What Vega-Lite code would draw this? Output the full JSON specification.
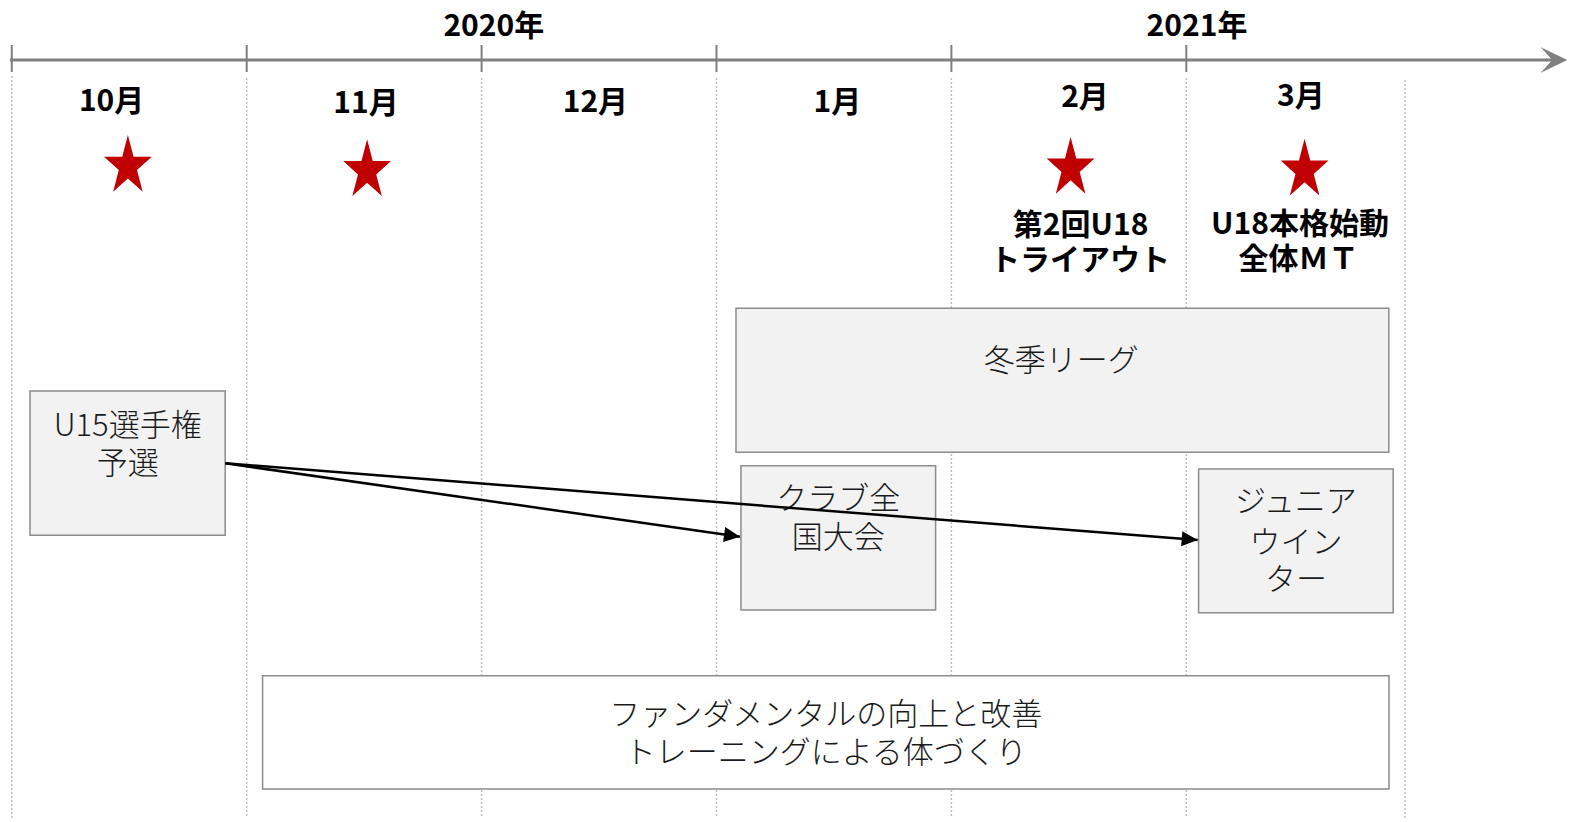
{
  "$schema": "https://vega.github.io/schema/vega-lite/v6.json",
  "width": 1574,
  "height": 822,
  "autosize": {"type": "fit", "contains": "padding"},
  "padding": 0,
  "background": "white",
  "config": {"view": {"stroke": null}},
  "datasets": {
    "grid": [
      {"x": 0, "y": 76, "y2": 818},
      {"x": 1, "y": 78, "y2": 818},
      {"x": 2, "y": 78, "y2": 818},
      {"x": 3, "y": 78, "y2": 818},
      {"x": 4, "y": 78, "y2": 818},
      {"x": 5, "y": 78, "y2": 818},
      {"x": 5.931, "y": 80, "y2": 818}
    ],
    "ticks": [
      {"x": 0, "y": 45, "y2": 72},
      {"x": 1, "y": 45, "y2": 72},
      {"x": 2, "y": 45, "y2": 72},
      {"x": 3, "y": 45, "y2": 72},
      {"x": 4, "y": 45, "y2": 72},
      {"x": 5, "y": 45, "y2": 72}
    ],
    "axisline": [{"x": -0.0077, "x2": 6.57, "y": 60}],
    "axishead": [{"x": 6.622, "y": 60}],
    "years": [
      {"x": 2.0519, "y": 25, "label": "2020年"},
      {"x": 5.0456, "y": 25, "label": "2021年"}
    ],
    "months": [
      {"x": 0.4249, "y": 100, "label": "10月"},
      {"x": 1.5079, "y": 101.7, "label": "11月"},
      {"x": 2.4845, "y": 101.4, "label": "12月"},
      {"x": 3.5143, "y": 101.4, "label": "1月"},
      {"x": 4.5688, "y": 96, "label": "2月"},
      {"x": 5.4874, "y": 95, "label": "3月"}
    ],
    "stars": [
      {"x": 0.4943, "y": 166.4},
      {"x": 1.5126, "y": 170.7},
      {"x": 4.5075, "y": 168.3},
      {"x": 5.5036, "y": 170.2}
    ],
    "starlabels": [
      {"x": 4.5502, "y": 223.5, "label": "第2回U18"},
      {"x": 4.5475, "y": 259, "label": "トライアウト"},
      {"x": 5.484, "y": 223, "label": "U18本格始動"},
      {"x": 5.478, "y": 258, "label": "全体ＭＴ"}
    ],
    "boxes": [
      {"name": "U15選手権予選", "kind": "event", "x": 0.0775, "x2": 0.9085, "y": 391, "y2": 535.3},
      {"name": "冬季リーグ", "kind": "event", "x": 3.083, "x2": 5.862, "y": 308.3, "y2": 452.3},
      {"name": "クラブ全国大会", "kind": "event", "x": 3.1043, "x2": 3.9328, "y": 465.7, "y2": 610},
      {"name": "ジュニアウインター", "kind": "event", "x": 5.0524, "x2": 5.8808, "y": 469, "y2": 612.7},
      {"name": "ファンダメンタル", "kind": "theme", "x": 1.0677, "x2": 5.8629, "y": 675.7, "y2": 789}
    ],
    "boxtext": [
      {"x": 0.4934, "y": 425, "label": "U15選手権"},
      {"x": 0.4934, "y": 463, "label": "予選"},
      {"x": 4.4674, "y": 360, "label": "冬季リーグ"},
      {"x": 3.5185, "y": 498, "label": "クラブ全"},
      {"x": 3.5185, "y": 536.7, "label": "国大会"},
      {"x": 5.4666, "y": 500.7, "label": "ジュニア"},
      {"x": 5.4666, "y": 541.7, "label": "ウイン"},
      {"x": 5.4666, "y": 579, "label": "ター"},
      {"x": 3.4653, "y": 714, "label": "ファンダメンタルの向上と改善"},
      {"x": 3.4653, "y": 751.7, "label": "トレーニングによる体づくり"}
    ],
    "arrows": [
      {"target": "クラブ全国大会", "x": 0.9093, "y": 463.3, "x2": 3.1001, "y2": 536.7},
      {"target": "ジュニアウインター", "x": 0.9093, "y": 463.3, "x2": 5.0485, "y2": 540}
    ],
    "arrowtips": [
      {"target": "クラブ全国大会", "x": 3.1001, "y": 536.7},
      {"target": "ジュニアウインター", "x": 5.0485, "y": 540}
    ]
  },
  "encoding": {
    "x": {"field": "x", "type": "quantitative", "axis": null, "scale": {"domain": [-0.0502, 6.6505], "nice": false, "zero": false}},
    "y": {"field": "y", "type": "quantitative", "axis": null, "scale": {"domain": [0, 822], "reverse": true, "nice": false, "zero": false}}
  },
  "layer": [
    {
      "data": {"name": "grid"},
      "mark": {"type": "rule", "color": "#bfbfbf", "strokeWidth": 1.5, "strokeDash": [2, 2]},
      "encoding": {"y2": {"field": "y2"}}
    },
    {
      "data": {"name": "ticks"},
      "mark": {"type": "rule", "color": "#7f7f7f", "strokeWidth": 2},
      "encoding": {"y2": {"field": "y2"}}
    },
    {
      "data": {"name": "axisline"},
      "mark": {"type": "rule", "color": "#7f7f7f", "strokeWidth": 3},
      "encoding": {"x2": {"field": "x2"}}
    },
    {
      "data": {"name": "axishead"},
      "mark": {"type": "point", "shape": "M0,0 L-0.98,-0.47 L-0.56,0 L-0.98,0.47 Z", "size": 2916, "filled": true, "color": "#7f7f7f", "opacity": 1, "strokeWidth": 0}
    },
    {
      "data": {"name": "years"},
      "mark": {"type": "text", "font": "Noto Sans CJK JP", "fontWeight": "bold", "fontSize": 30, "color": "#000000", "baseline": "middle", "align": "center", "dy": 2},
      "encoding": {"text": {"field": "label"}}
    },
    {
      "data": {"name": "months"},
      "mark": {"type": "text", "font": "Noto Sans CJK JP", "fontWeight": "bold", "fontSize": 30, "color": "#000000", "baseline": "middle", "align": "center", "dy": 2},
      "encoding": {"text": {"field": "label"}}
    },
    {
      "data": {"name": "stars"},
      "mark": {"type": "point", "shape": "M0,-1.25 L0.2245,-0.386 L0.951,-0.386 L0.363,0.1475 L0.588,1.011 L0,0.4775 L-0.588,1.011 L-0.363,0.1475 L-0.951,-0.386 L-0.2245,-0.386 Z", "size": 2520, "filled": true, "color": "#c00000", "opacity": 1, "strokeWidth": 0}
    },
    {
      "data": {"name": "starlabels"},
      "mark": {"type": "text", "font": "Noto Sans CJK JP", "fontWeight": "bold", "fontSize": 30, "color": "#000000", "baseline": "middle", "align": "center", "dy": 2},
      "encoding": {"text": {"field": "label"}}
    },
    {
      "data": {"name": "boxes"},
      "mark": {"type": "rect", "stroke": "#8c8c8c", "strokeWidth": 1.5, "opacity": 1},
      "encoding": {
        "x2": {"field": "x2"},
        "y2": {"field": "y2"},
        "fill": {"field": "kind", "type": "nominal", "legend": null, "scale": {"domain": ["event", "theme"], "range": ["#f2f2f2", "#ffffff"]}}
      }
    },
    {
      "data": {"name": "boxtext"},
      "mark": {"type": "text", "font": "Noto Sans CJK JP", "fontWeight": 300, "fontSize": 31, "color": "#1a1a1a", "baseline": "middle", "align": "center", "dy": 2},
      "encoding": {"text": {"field": "label"}}
    },
    {
      "data": {"name": "arrows"},
      "mark": {"type": "rule", "color": "#000000", "strokeWidth": 2.5},
      "encoding": {"x2": {"field": "x2"}, "y2": {"field": "y2"}}
    },
    {
      "data": {"name": "arrowtips"},
      "transform": [{"filter": "datum.target === 'クラブ全国大会'"}],
      "mark": {"type": "point", "shape": "M0,0 L-1,-0.47 L-1,0.47 Z", "size": 1024, "filled": true, "color": "#000000", "opacity": 1, "strokeWidth": 0, "angle": 8.12}
    },
    {
      "data": {"name": "arrowtips"},
      "transform": [{"filter": "datum.target === 'ジュニアウインター'"}],
      "mark": {"type": "point", "shape": "M0,0 L-1,-0.47 L-1,0.47 Z", "size": 1024, "filled": true, "color": "#000000", "opacity": 1, "strokeWidth": 0, "angle": 4.51}
    }
  ]
}
